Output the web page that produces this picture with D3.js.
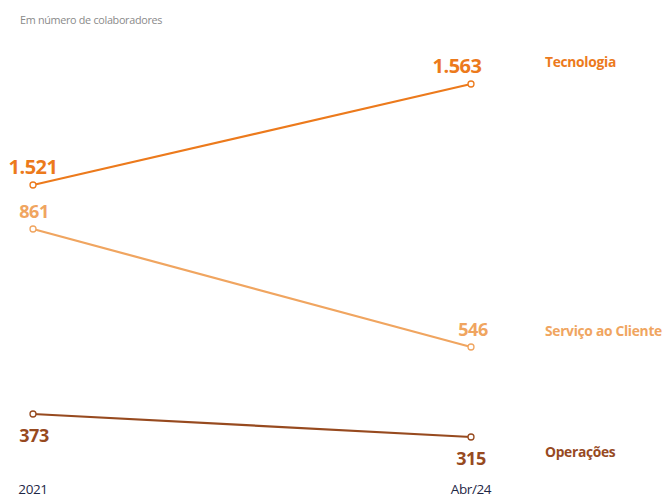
<!DOCTYPE html>
<html>
<head>
<meta charset="UTF-8">
<title>Colaboradores por área</title>
<script src="https://d3js.org/d3.v7.min.js"></script>
<style>
  body { margin: 0; background: #fff; }
  text { font-family: "Open Sans", "Noto Sans", sans-serif; }
</style>
</head>
<body>
<div id="chart"></div>
<script>
// data
const periods = ["2021", "Abr/24"]
const areas = ["Tecnologia", "Serviço ao Cliente", "Operações"]
const tecnologia = [1521, 1563]
const servico = [861, 546]
const operacoes = [373, 315]
const colors = ["#ec7a1c", "#f0a560", "#974a1f"]

// vertical scale of the original is not linear, break points read from the picture
const yBreaks = [315, 373, 546, 861, 1521, 1563]
const yPos = [437, 414, 347, 229, 185, 84]

const W = 663, H = 498
const svg = d3.select("#chart").append("svg").attr("width", W).attr("height", H)

const x = d3.scalePoint().domain(periods).range([33, 471])
const y = d3.scaleLinear().domain(yBreaks).range(yPos)

svg.append("text").attr("x", 20).attr("y", 24)
  .attr("font-size", 10.8).attr("fill", "#8a8a8a").attr("letter-spacing", -0.3)
  .text("Em número de colaboradores")

const series = [tecnologia, servico, operacoes].map((v, i) => ({
  name: areas[i], color: colors[i],
  values: v.map((d, j) => ({ p: periods[j], v: d }))
}))

// label placement: above / below point for each value
const place = [[-1, -1], [-1, -1], [1, 1]]
const dxs = [[0, -14], [1, 2], [1, 0]]
const fmt = d3.format(",")
const ptBR = v => fmt(v).replace(",", ".")

const line = d3.line().x(d => x(d.p)).y(d => y(d.v))

const g = svg.selectAll(".serie").data(series).enter().append("g")

g.append("path").attr("d", d => line(d.values))
  .attr("fill", "none").attr("stroke", d => d.color).attr("stroke-width", 2.2)

g.each(function(s, i) {
  const gg = d3.select(this)
  gg.selectAll("circle").data(s.values).enter().append("circle")
    .attr("cx", d => x(d.p)).attr("cy", d => y(d.v)).attr("r", 3)
    .attr("fill", "#fff").attr("stroke", s.color).attr("stroke-width", 1.3)
  gg.selectAll(".val").data(s.values).enter().append("text")
    .attr("x", (d, j) => x(d.p) + dxs[i][j])
    .attr("y", (d, j) => y(d.v) + (place[i][j] < 0 ? -11 : 28))
    .attr("text-anchor", "middle")
    .attr("font-weight", "bold").attr("font-size", i == 0 ? 20 : 18)
    .attr("letter-spacing", -0.5)
    .attr("fill", s.color)
    .text(d => ptBR(d.v))
  // area name on the right
  const last = s.values[1]
  gg.append("text").attr("x", 545)
    .attr("y", y(last.v) + [-17, -11, 20][i])
    .attr("font-weight", "bold").attr("font-size", 13.8).attr("letter-spacing", -0.3)
    .attr("fill", s.color)
    .text(s.name)
})

svg.selectAll(".per").data(periods).enter().append("text")
  .attr("x", d => x(d)).attr("y", 494)
  .attr("text-anchor", "middle").attr("font-size", 13.5).attr("letter-spacing", -0.4)
  .attr("fill", "#1e2746")
  .text(d => d)
</script>
</body>
</html>
